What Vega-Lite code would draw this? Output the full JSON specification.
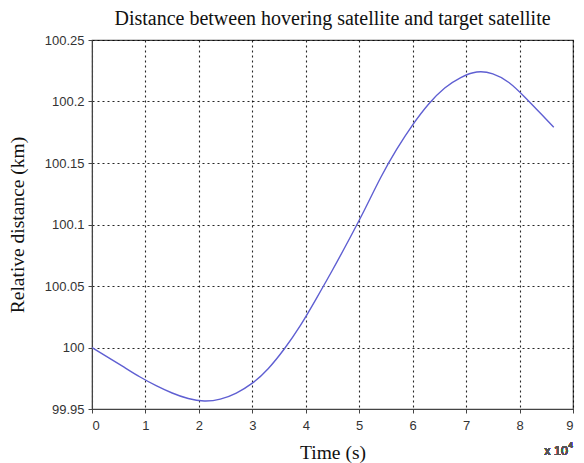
{
  "$schema": "https://vega.github.io/schema/vega-lite/v6.json",
  "width": 481,
  "height": 369,
  "autosize": {"type": "none"},
  "padding": {"left": 92, "top": 40, "right": 11, "bottom": 54},
  "background": "white",
  "title": {
    "text": "Distance between hovering satellite and target satellite",
    "font": "Liberation Serif",
    "fontSize": 20,
    "fontWeight": "normal",
    "color": "#111",
    "anchor": "middle",
    "offset": 5
  },
  "config": {
    "view": {"stroke": "#444", "strokeWidth": 1.2},
    "axis": {
      "labelFont": "Liberation Sans",
      "labelFontSize": 13,
      "labelColor": "#333",
      "titleFont": "Liberation Serif",
      "titleFontSize": 19.5,
      "titleFontWeight": "normal",
      "titleColor": "#111",
      "domainColor": "#444",
      "tickColor": "#444",
      "tickSize": 4,
      "grid": true,
      "gridColor": "#000",
      "gridOpacity": 0.85,
      "gridDash": [2, 3],
      "gridWidth": 1.1
    }
  },
  "data": {
    "values": [
      {"t": 0, "d": 100.0},
      {"t": 3000, "d": 99.992},
      {"t": 6000, "d": 99.984},
      {"t": 9000, "d": 99.976},
      {"t": 12000, "d": 99.969},
      {"t": 15000, "d": 99.963},
      {"t": 18000, "d": 99.9585},
      {"t": 21000, "d": 99.9565},
      {"t": 24000, "d": 99.958},
      {"t": 27000, "d": 99.963},
      {"t": 30000, "d": 99.971},
      {"t": 33000, "d": 99.983},
      {"t": 36000, "d": 99.999},
      {"t": 39000, "d": 100.018},
      {"t": 42000, "d": 100.04},
      {"t": 45000, "d": 100.063},
      {"t": 48000, "d": 100.087},
      {"t": 51000, "d": 100.112},
      {"t": 54000, "d": 100.138},
      {"t": 57000, "d": 100.161},
      {"t": 60000, "d": 100.181},
      {"t": 63000, "d": 100.198},
      {"t": 66000, "d": 100.211},
      {"t": 69000, "d": 100.2195},
      {"t": 72000, "d": 100.224},
      {"t": 75000, "d": 100.2225},
      {"t": 78000, "d": 100.2155},
      {"t": 81000, "d": 100.2035},
      {"t": 84000, "d": 100.19},
      {"t": 86400, "d": 100.179}
    ]
  },
  "layer": [
    {
      "mark": {"type": "line", "color": "#5f5fd2", "strokeWidth": 1.4, "interpolate": "natural"},
      "encoding": {
        "x": {
          "field": "t",
          "type": "quantitative",
          "scale": {"domain": [0, 90000], "nice": false},
          "axis": {
            "title": "Time (s)",
            "values": [0, 10000, 20000, 30000, 40000, 50000, 60000, 70000, 80000, 90000],
            "labelExpr": "format(datum.value / 10000, 'd')",
            "labelPadding": 6,
            "titlePadding": 11
          }
        },
        "y": {
          "field": "d",
          "type": "quantitative",
          "scale": {"domain": [99.95, 100.25], "nice": false, "zero": false},
          "axis": {
            "title": "Relative distance (km)",
            "values": [99.95, 100, 100.05, 100.1, 100.15, 100.2, 100.25],
            "labelExpr": "format(datum.value, '.4~f')",
            "labelPadding": 4,
            "titlePadding": 17
          }
        }
      }
    },
    {
      "mark": {"type": "text", "text": "x 10", "font": "Liberation Sans", "fontSize": 12.5, "fontWeight": "normal", "color": "#555", "align": "right", "baseline": "middle", "dx": -5, "dy": 42},
      "encoding": {"x": {"datum": 90000}, "y": {"datum": 99.95}}
    },
    {
      "mark": {"type": "text", "text": "4", "font": "Liberation Sans", "fontSize": 8.5, "fontWeight": "normal", "color": "#555", "align": "right", "baseline": "middle", "dx": 0, "dy": 36},
      "encoding": {"x": {"datum": 90000}, "y": {"datum": 99.95}}
    }
  ]
}
